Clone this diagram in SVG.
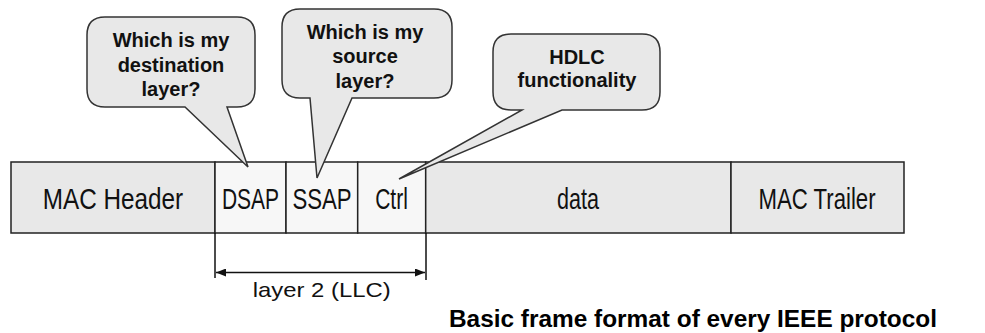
<svg xmlns="http://www.w3.org/2000/svg" width="985" height="333" viewBox="0 0 985 333">
<style>
.cell{fill:#e8e8e8;stroke:#222;stroke-width:1.5}
.llc{fill:#f7f7f7;stroke:#222;stroke-width:1.5}
.lbl{font-family:"Liberation Sans",Arial,sans-serif;font-size:30px;fill:#111;text-anchor:middle}
.bub{fill:#e8e8e8;stroke:#333;stroke-width:1.5;stroke-linejoin:miter}
.bt{font-family:"Liberation Sans",Arial,sans-serif;font-weight:bold;font-size:20px;fill:#111;text-anchor:middle}
.dim{stroke:#111;stroke-width:1.5;fill:none}
</style>
<defs>
<marker id="ah" viewBox="0 0 10 8" refX="10" refY="4" markerWidth="10" markerHeight="8" markerUnits="userSpaceOnUse" orient="auto-start-reverse">
<path d="M0,0 L10,4 L0,8 Z" fill="#111"/>
</marker>
</defs>
<g id="frame">
<g id="mac-header"><rect class="cell" x="11" y="162" width="204" height="71"/><text class="lbl" transform="translate(113,208.5) scale(0.81,1)">MAC Header</text></g>
<g id="dsap"><rect class="llc" x="215" y="162" width="71" height="71"/><text class="lbl" transform="translate(250.5,208.5) scale(0.70,1)">DSAP</text></g>
<g id="ssap"><rect class="llc" x="286" y="162" width="71.7" height="71"/><text class="lbl" transform="translate(322,208.5) scale(0.74,1)">SSAP</text></g>
<g id="ctrl"><rect class="llc" x="357.7" y="162" width="68" height="71"/><text class="lbl" transform="translate(391.5,208.5) scale(0.70,1)">Ctrl</text></g>
<g id="data"><rect class="cell" x="425.7" y="162" width="305.3" height="71"/><text class="lbl" transform="translate(578,208.5) scale(0.72,1)">data</text></g>
<g id="mac-trailer"><rect class="cell" x="731" y="162" width="173" height="71"/><text class="lbl" transform="translate(817,208.5) scale(0.74,1)">MAC Trailer</text></g>
</g>
<g id="bubble-dsap">
<path class="bub" d="M105,17 H237 Q255,17 255,35 V89 Q255,107 237,107 H227 L248,167 L185,107 H105 Q87,107 87,89 V35 Q87,17 105,17 Z"/>
<text class="bt" x="171" y="47">Which is my</text>
<text class="bt" x="171" y="71.5">destination</text>
<text class="bt" x="171" y="96">layer?</text>
</g>
<g id="bubble-ssap">
<path class="bub" d="M300,9 H434 Q452,9 452,27 V80 Q452,98 434,98 H352 L317,178 L310,98 H300 Q282,98 282,80 V27 Q282,9 300,9 Z"/>
<text class="bt" x="365" y="38.5">Which is my</text>
<text class="bt" x="365" y="63">source</text>
<text class="bt" x="365" y="87.5">layer?</text>
</g>
<g id="bubble-ctrl">
<path class="bub" d="M511,34 H642 Q660,34 660,52 V92 Q660,110 642,110 H562 L399,179 L522,110 H511 Q493,110 493,92 V52 Q493,34 511,34 Z"/>
<text class="bt" x="577" y="63.5">HDLC</text>
<text class="bt" x="577" y="87">functionality</text>
</g>
<g id="connectors">
<line class="dim" x1="215" y1="233" x2="215" y2="278"/>
<line class="dim" x1="426" y1="233" x2="426" y2="280"/>
<line class="dim" x1="216" y1="272.5" x2="425" y2="272.5" marker-start="url(#ah)" marker-end="url(#ah)"/>
</g>
<g id="dim-label">
<text x="321.7" y="297" font-family="'Liberation Sans',Arial,sans-serif" font-size="21" fill="#111" text-anchor="middle" textLength="138" lengthAdjust="spacingAndGlyphs">layer 2 (LLC)</text>
</g>
<g id="caption">
<text x="449" y="327" font-family="'Liberation Sans',Arial,sans-serif" font-weight="bold" font-size="23" fill="#000" textLength="488" lengthAdjust="spacingAndGlyphs">Basic frame format of every IEEE protocol</text>
</g>
</svg>
